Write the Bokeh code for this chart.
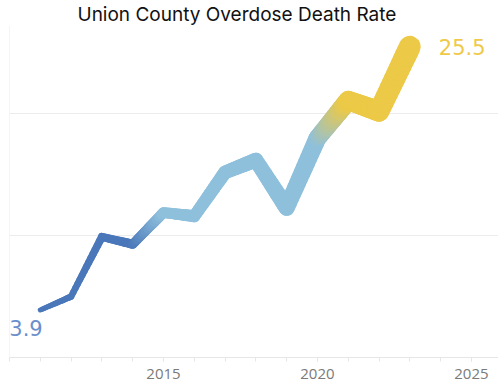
from bokeh.plotting import figure
from bokeh.models import FixedTicker, Span, Label, ColumnDataSource, Range1d
from bokeh.embed import file_html
from bokeh.resources import INLINE

# ---- data ----
years = [2011, 2012, 2013, 2014, 2015, 2016, 2017, 2018, 2019, 2020, 2021, 2022, 2023]
rates = [3.9, 5.0, 9.9, 9.3, 11.9, 11.6, 15.2, 16.2, 12.3, 18.0, 21.1, 20.2, 25.5]
periods = ["early", "early", "early", "early", "mid", "mid", "mid", "mid", "mid", "mid",
           "late", "late", "late"]
x_ticks = [2015, 2020, 2025]
title_text = "Union County Overdose Death Rate"

# ---- style ----
period_colors = {"early": (74, 119, 185), "mid": (142, 192, 220), "late": (236, 201, 70)}
w_start, w_end = 5.0, 22.0
nsub = 14

def hexc(c):
    return "#%02x%02x%02x" % tuple(int(round(v)) for v in c)

n = len(years)
widths = [w_start + (w_end - w_start) * i / (n - 1) for i in range(n)]
x0, y0, x1, y1, cols, lws = [], [], [], [], [], []
for i in range(n - 1):
    ca, cb = period_colors[periods[i]], period_colors[periods[i + 1]]
    for k in range(nsub):
        ta, tb = k / nsub, (k + 1) / nsub
        tm = (ta + tb) / 2
        x0.append(years[i] + (years[i + 1] - years[i]) * ta)
        x1.append(years[i] + (years[i + 1] - years[i]) * tb)
        y0.append(rates[i] + (rates[i + 1] - rates[i]) * ta)
        y1.append(rates[i] + (rates[i + 1] - rates[i]) * tb)
        cols.append(hexc([ca[j] + (cb[j] - ca[j]) * tm for j in range(3)]))
        lws.append(widths[i] + (widths[i + 1] - widths[i]) * tm)

src = ColumnDataSource(dict(x0=x0, y0=y0, x1=x1, y1=y1, c=cols, w=lws))

p = figure(width=498, height=390, output_backend="svg", toolbar_location=None,
           x_range=Range1d(2010, 2025.88), y_range=Range1d(0, 27.25),
           min_border_left=9, min_border_right=0, min_border_top=0, min_border_bottom=33)
p.outline_line_color = None
p.background_fill_color = "white"
p.border_fill_color = "white"

p.title.text = title_text
p.title.text_font = "Inter"
p.title.text_font_size = "19px"
p.title.text_font_style = "normal"
p.title.text_color = "#111111"
p.title.align = "left"
p.title.offset = 68
p.title.standoff = 0

p.segment(x0="x0", y0="y0", x1="x1", y1="y1", line_color="c", line_width="w",
          line_cap="round", source=src)

p.yaxis.visible = False
p.ygrid.ticker = FixedTicker(ticks=[10, 20])
p.ygrid.grid_line_color = "#ececec"
p.xgrid.grid_line_color = None

p.add_layout(Span(location=2010, dimension="height", line_color="#ececec", line_width=1))

ax = p.xaxis[0]
ax.ticker = FixedTicker(ticks=x_ticks, minor_ticks=list(range(2010, 2026)))
ax.axis_line_color = "#e6e6e6"
ax.major_tick_line_color = "#e6e6e6"
ax.minor_tick_line_color = "#e6e6e6"
ax.major_tick_in = 0
ax.major_tick_out = 4
ax.minor_tick_in = 0
ax.minor_tick_out = 4
ax.major_label_text_color = "#7a7a7a"
ax.major_label_text_font = "Open Sans"
ax.major_label_text_font_size = "15px"
ax.major_label_standoff = 7

p.add_layout(Label(x=years[0], y=rates[0], text="%.1f" % rates[0], x_offset=-31, y_offset=-18,
                   text_color="#6b8fcc", text_font="DejaVu Sans", text_font_size="21px",
                   text_baseline="middle", text_align="left"))
p.add_layout(Label(x=years[-1], y=rates[-1], text="%.1f" % rates[-1], x_offset=29, y_offset=0,
                   text_color="#eec94a", text_font="DejaVu Sans", text_font_size="21px",
                   text_baseline="middle", text_align="left"))

open("out.html", "w").write(file_html(p, INLINE))
